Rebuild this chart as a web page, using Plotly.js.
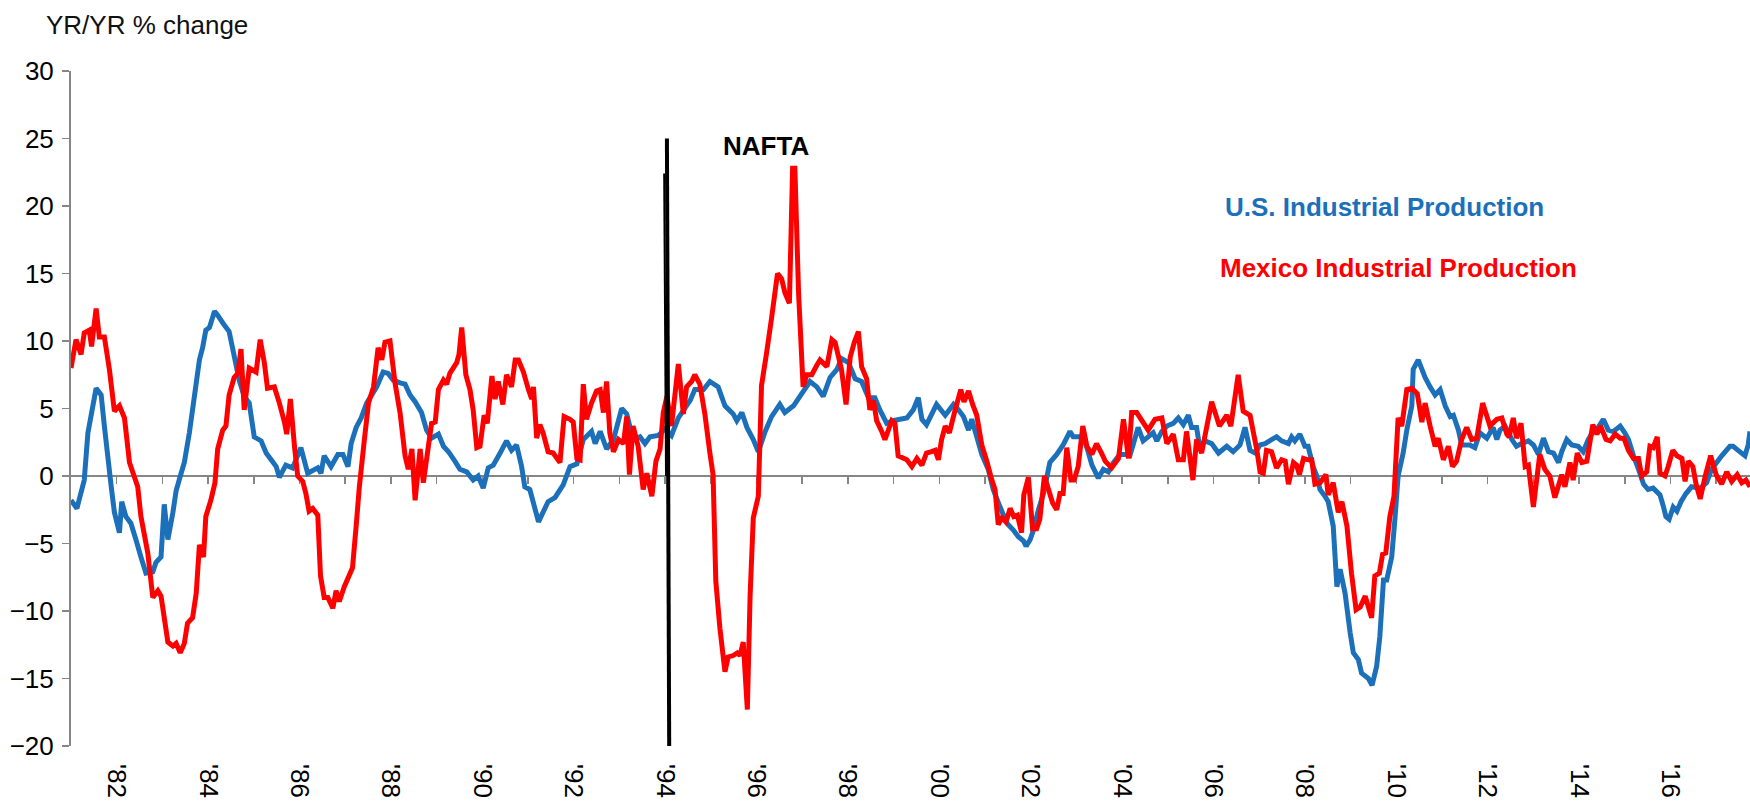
<!DOCTYPE html>
<html>
<head>
<meta charset="utf-8">
<script src="https://cdn.plot.ly/plotly-3.0.1.min.js"></script>
<style>
html,body{margin:0;padding:0;background:#ffffff;}
#chart{width:1750px;height:801px;}
</style>
</head>
<body>
<div id="chart"></div>
<script>
// ---- Data (year as decimal, YoY % change) ----
const usYears = [
1981.00,1981.13,1981.29,1981.37,1981.55,1981.66,1981.73,1981.88,1981.95,1982.06,
1982.11,1982.20,1982.31,1982.42,1982.53,1982.64,1982.79,1982.86,1982.97,1983.04,
1983.12,1983.23,1983.30,1983.41,1983.48,1983.59,1983.70,1983.81,1983.88,1983.95,
1984.03,1984.14,1984.21,1984.35,1984.46,1984.57,1984.68,1984.79,1984.90,1985.01,
1985.16,1985.27,1985.38,1985.49,1985.56,1985.70,1985.85,1986.03,1986.18,1986.40,
1986.47,1986.54,1986.69,1986.84,1986.95,1987.06,1987.13,1987.24,1987.35,1987.47,
1987.69,1987.83,1987.94,1988.05,1988.20,1988.31,1988.42,1988.53,1988.67,1988.78,
1988.89,1989.04,1989.15,1989.26,1989.40,1989.51,1989.66,1989.80,1989.91,1990.02,
1990.13,1990.24,1990.39,1990.53,1990.64,1990.75,1990.86,1990.93,1991.04,1991.23,
1991.44,1991.59,1991.77,1991.92,1992.07,1992.21,1992.39,1992.47,1992.58,1992.72,
1992.87,1993.05,1993.16,1993.30,1993.45,1993.56,1993.67,1993.85,1994.00,1994.14,
1994.29,1994.55,1994.65,1994.84,1994.98,1995.16,1995.31,1995.49,1995.57,1995.68,
1995.79,1995.93,1996.04,1996.19,1996.33,1996.51,1996.62,1996.81,1996.95,1997.17,
1997.32,1997.46,1997.61,1997.76,1997.86,1998.01,1998.16,1998.30,1998.45,1998.59,
1998.70,1998.85,1998.99,1999.14,1999.29,1999.43,1999.54,1999.62,1999.72,1999.94,
2000.13,2000.31,2000.42,2000.53,2000.64,2000.71,2000.82,2000.93,2001.07,2001.18,
2001.33,2001.48,2001.62,2001.73,2001.84,2001.90,2001.99,2002.06,2002.17,2002.28,
2002.42,2002.57,2002.71,2002.86,2002.93,2003.04,2003.15,2003.23,2003.34,2003.48,
2003.59,2003.70,2003.81,2003.95,2004.06,2004.17,2004.25,2004.35,2004.46,2004.57,
2004.68,2004.76,2004.87,2004.98,2005.12,2005.23,2005.34,2005.45,2005.52,2005.63,
2005.70,2005.81,2005.96,2006.11,2006.29,2006.43,2006.58,2006.69,2006.80,2006.91,
2007.02,2007.13,2007.27,2007.38,2007.49,2007.64,2007.71,2007.78,2007.89,2008.00,
2008.07,2008.18,2008.26,2008.33,2008.44,2008.51,2008.62,2008.70,2008.77,2008.88,
2008.99,2009.06,2009.17,2009.24,2009.39,2009.47,2009.57,2009.64,2009.72,2009.79,
2009.90,2009.97,2010.04,2010.15,2010.23,2010.34,2010.37,2010.48,2010.63,2010.74,
2010.85,2010.96,2011.07,2011.18,2011.25,2011.36,2011.43,2011.61,2011.72,2011.83,
2011.98,2012.12,2012.20,2012.27,2012.38,2012.53,2012.63,2012.74,2012.89,2013.00,
2013.11,2013.22,2013.33,2013.44,2013.55,2013.62,2013.73,2013.84,2013.98,2014.09,
2014.20,2014.31,2014.42,2014.53,2014.64,2014.75,2014.90,2015.00,2015.08,2015.19,
2015.30,2015.41,2015.51,2015.62,2015.77,2015.84,2015.90,2015.97,2016.06,2016.14,
2016.23,2016.34,2016.46,2016.65,2016.79,2016.90,2017.01,2017.12,2017.30,2017.37,
2017.48,2017.63,2017.70,2017.74
];
const usValues = [
-1.8,-2.4,-0.3,3.2,6.5,6.0,3.7,-0.8,-2.7,-4.2,
-1.9,-3.0,-3.5,-4.7,-6.0,-7.2,-7.1,-6.4,-6.0,-2.1,
-4.7,-2.7,-1.1,0.2,1.0,3.2,5.9,8.6,9.5,10.8,
11.0,12.2,11.9,11.2,10.7,8.9,7.1,5.9,5.4,2.9,
2.6,1.7,1.2,0.7,-0.1,0.8,0.6,2.1,0.2,0.6,
0.2,1.5,0.7,1.6,1.6,0.7,2.4,3.6,4.3,5.4,
6.6,7.7,7.6,7.1,6.9,6.8,6.0,5.5,4.7,3.4,
2.8,3.1,2.2,1.8,1.1,0.5,0.3,-0.3,0.0,-0.9,
0.6,0.8,1.7,2.6,1.9,2.3,0.7,-0.8,-1.0,-3.4,
-1.9,-1.6,-0.65,0.7,0.9,2.7,3.3,2.4,3.3,2.0,
2.7,5.0,4.6,2.7,2.9,2.4,2.9,3.0,3.5,3.0,
4.3,5.6,6.4,6.4,7.0,6.6,5.2,4.6,4.1,4.7,
3.6,2.7,1.8,3.3,4.4,5.3,4.7,5.2,5.9,7.0,
6.6,5.9,7.3,7.9,8.7,8.4,7.2,7.0,5.8,5.8,
4.9,3.9,4.1,4.2,4.3,4.9,5.8,4.2,3.8,5.3,
4.5,5.3,4.9,4.4,3.4,4.2,2.9,1.6,0.5,-1.0,
-2.3,-3.5,-4.0,-4.5,-4.8,-5.2,-4.7,-4.0,-2.5,-1.3,
1.0,1.6,2.3,3.3,2.9,2.9,2.9,2.1,0.8,-0.15,
0.5,0.3,1.0,1.6,1.6,1.5,2.4,3.6,2.6,2.9,
3.2,2.6,3.3,3.7,3.9,4.3,3.8,4.5,3.6,3.6,
2.1,2.6,2.4,1.7,2.2,1.8,2.3,3.6,1.9,1.7,
2.3,2.4,2.7,2.9,2.6,2.4,2.9,2.6,3.1,2.2,
2.2,0.7,0.0,-1.0,-1.5,-1.9,-3.7,-8.2,-6.9,-8.7,
-11.6,-13.1,-13.6,-14.6,-15.0,-15.5,-14.1,-11.9,-7.7,-7.7,
-6.0,-3.2,0.0,1.7,3.4,5.2,7.9,8.6,7.3,6.6,
6.0,6.4,5.2,4.4,4.5,3.4,2.3,2.3,2.1,3.2,
2.8,3.6,2.7,3.4,3.7,2.7,2.2,2.4,2.6,2.3,
1.6,2.8,1.8,1.7,1.0,1.8,2.7,2.3,2.2,1.8,
2.7,3.3,3.6,4.2,3.4,3.3,3.7,3.2,2.7,1.5,
0.5,-0.6,-1.0,-0.9,-1.4,-2.2,-3.0,-3.2,-2.3,-2.6,
-1.9,-1.3,-0.8,-0.9,-0.5,0.5,1.0,1.5,2.2,2.2,
1.9,1.5,2.3,3.3
];
const mxYears = [
1981.00,1981.11,1981.22,1981.29,1981.40,1981.45,1981.55,1981.62,1981.73,1981.84,
1981.95,1982.06,1982.17,1982.28,1982.35,1982.46,1982.53,1982.68,1982.79,1982.90,
1982.97,1983.12,1983.23,1983.30,1983.39,1983.48,1983.55,1983.66,1983.74,1983.81,
1983.90,1983.95,1984.06,1984.15,1984.21,1984.32,1984.39,1984.46,1984.57,1984.65,
1984.72,1984.79,1984.90,1985.05,1985.14,1985.23,1985.30,1985.45,1985.56,1985.67,
1985.72,1985.80,1985.89,1985.96,1986.07,1986.14,1986.21,1986.29,1986.40,1986.46,
1986.54,1986.62,1986.73,1986.80,1986.87,1986.98,1987.16,1987.24,1987.31,1987.42,
1987.51,1987.62,1987.72,1987.80,1987.87,1987.98,1988.09,1988.20,1988.31,1988.38,
1988.46,1988.53,1988.64,1988.71,1988.82,1988.89,1988.97,1989.04,1989.15,1989.22,
1989.29,1989.44,1989.49,1989.55,1989.64,1989.73,1989.80,1989.88,1989.95,1990.04,
1990.11,1990.21,1990.28,1990.35,1990.45,1990.53,1990.64,1990.72,1990.79,1990.90,
1991.01,1991.08,1991.12,1991.19,1991.26,1991.33,1991.44,1991.55,1991.70,1991.79,
1991.92,1991.99,1992.07,1992.14,1992.21,1992.28,1992.39,1992.50,1992.58,1992.65,
1992.72,1992.79,1992.87,1992.98,1993.09,1993.16,1993.22,1993.30,1993.41,1993.52,
1993.60,1993.71,1993.80,1993.89,1993.96,1994.04,1994.14,1994.29,1994.40,1994.47,
1994.58,1994.65,1994.76,1994.87,1994.98,1995.05,1995.11,1995.20,1995.31,1995.38,
1995.49,1995.58,1995.64,1995.71,1995.80,1995.86,1995.93,1996.04,1996.11,1996.22,
1996.33,1996.46,1996.55,1996.62,1996.72,1996.79,1996.84,1996.92,1997.02,1997.10,
1997.21,1997.32,1997.39,1997.54,1997.65,1997.72,1997.86,1997.96,1998.05,1998.14,
1998.23,1998.30,1998.41,1998.48,1998.56,1998.63,1998.74,1998.81,1998.96,1999.03,
1999.10,1999.29,1999.40,1999.51,1999.62,1999.72,1999.83,1999.91,1999.98,2000.05,
2000.13,2000.22,2000.34,2000.47,2000.54,2000.64,2000.73,2000.82,2000.93,2001.04,
2001.15,2001.22,2001.29,2001.37,2001.46,2001.55,2001.63,2001.71,2001.80,2001.85,
2001.95,2002.04,2002.13,2002.20,2002.30,2002.39,2002.48,2002.57,2002.64,2002.71,
2002.79,2002.88,2002.95,2003.04,2003.14,2003.23,2003.34,2003.44,2003.55,2003.63,
2003.77,2003.92,2004.03,2004.14,2004.21,2004.32,2004.57,2004.72,2004.87,2004.98,
2005.12,2005.23,2005.34,2005.41,2005.55,2005.63,2005.74,2005.96,2006.13,2006.29,
2006.38,2006.54,2006.65,2006.80,2006.95,2007.02,2007.09,2007.16,2007.27,2007.38,
2007.49,2007.57,2007.64,2007.75,2007.82,2007.88,2007.97,2008.07,2008.15,2008.22,
2008.33,2008.46,2008.51,2008.62,2008.73,2008.81,2008.92,2009.02,2009.12,2009.21,
2009.32,2009.39,2009.46,2009.53,2009.63,2009.70,2009.77,2009.86,2009.95,2010.04,
2010.12,2010.23,2010.34,2010.46,2010.56,2010.63,2010.74,2010.85,2010.92,2011.03,
2011.14,2011.23,2011.32,2011.43,2011.54,2011.65,2011.76,2011.89,2012.05,2012.20,
2012.31,2012.42,2012.47,2012.56,2012.63,2012.73,2012.82,2012.89,2013.00,2013.14,
2013.25,2013.36,2013.47,2013.62,2013.69,2013.80,2013.87,2013.96,2014.06,2014.17,
2014.30,2014.39,2014.47,2014.59,2014.68,2014.79,2014.90,2014.98,2015.08,2015.19,
2015.30,2015.37,2015.48,2015.55,2015.62,2015.71,2015.77,2015.88,2015.95,2016.05,
2016.14,2016.25,2016.32,2016.39,2016.49,2016.56,2016.65,2016.76,2016.88,2017.00,
2017.12,2017.23,2017.34,2017.46,2017.56,2017.65,2017.74
];
const mxValues = [
8.0,10.1,9.0,10.6,10.8,9.6,12.4,10.3,10.3,7.9,
4.8,5.2,4.3,1.0,0.3,-0.8,-3.0,-5.7,-9.0,-8.5,
-8.9,-12.3,-12.6,-12.4,-13.1,-12.4,-10.9,-10.5,-8.7,-5.1,
-6.0,-3.0,-1.8,-0.5,2.0,3.4,3.7,6.0,7.3,7.6,
9.4,4.9,8.0,7.7,10.1,8.4,6.5,6.6,5.4,4.0,
3.1,5.7,2.2,0.0,-0.4,-1.3,-2.6,-2.4,-2.9,-7.4,
-9.0,-9.0,-9.8,-8.5,-9.3,-8.2,-6.8,-3.7,-0.8,2.7,
5.4,6.6,9.5,8.6,9.9,10.0,6.9,4.7,1.5,0.5,
2.0,-1.8,2.0,-0.5,2.2,3.9,4.0,6.4,7.1,6.8,
7.6,8.4,9.0,11.0,7.5,6.4,4.9,2.1,2.2,4.5,
3.9,7.4,5.7,7.0,5.3,7.5,6.6,8.6,8.6,7.7,
6.4,5.7,6.6,2.8,3.8,3.2,1.8,1.7,1.0,4.4,
4.2,4.0,1.3,1.2,6.8,4.2,5.4,6.3,6.4,4.7,
7.0,3.2,1.8,2.7,2.4,4.4,0.1,3.7,2.2,-1.0,
0.2,-1.5,1.1,2.0,4.7,5.9,3.7,8.3,4.6,6.6,
7.0,7.5,6.8,4.6,1.7,0.1,-7.8,-11.3,-14.5,-13.4,
-13.3,-13.1,-13.3,-12.3,-17.3,-8.9,-3.1,-1.5,6.7,9.1,
11.7,15.0,14.6,13.6,12.8,22.8,22.8,13.6,6.6,7.5,
7.5,8.2,8.6,8.1,10.1,9.9,7.9,5.3,8.8,9.9,
10.7,8.1,7.2,4.9,5.6,4.1,3.3,2.7,4.1,3.9,
1.5,1.2,0.7,1.3,0.8,1.7,1.8,1.9,1.2,2.7,
3.7,3.2,4.8,6.4,5.5,6.3,5.3,4.5,2.3,1.1,
-0.3,-1.0,-3.6,-3.1,-3.4,-2.4,-3.0,-2.9,-4.2,-1.4,
-0.1,-3.9,-3.9,-3.2,0.0,-1.0,-2.0,-2.5,-1.3,-1.3,
2.1,-0.3,-0.3,0.7,3.7,2.2,1.6,2.4,1.7,1.1,
0.6,1.3,4.2,1.3,4.7,4.7,3.4,4.2,4.3,2.4,
3.1,1.2,1.2,3.3,-0.3,2.7,1.7,5.5,3.7,4.5,
3.7,7.5,4.8,4.5,1.9,0.3,0.2,1.9,1.8,0.6,
1.2,1.1,-0.6,1.0,0.8,0.1,1.3,1.2,1.2,-0.6,
-0.5,0.1,-1.4,-0.5,-2.7,-1.9,-3.7,-7.2,-9.9,-9.7,
-8.9,-9.7,-10.5,-7.4,-7.2,-5.8,-5.7,-3.0,-1.5,4.3,
3.7,6.4,6.5,6.1,4.0,5.4,3.7,2.2,2.8,1.2,
2.2,0.7,1.1,2.7,3.6,2.7,2.8,5.4,3.7,4.2,
4.3,3.1,2.9,4.3,2.8,3.9,0.7,0.8,-2.3,1.6,
0.5,0.0,-1.6,0.1,-0.8,1.0,-0.3,1.7,1.0,1.1,
3.8,3.1,3.7,2.7,2.6,3.1,2.8,2.8,1.9,1.3,
1.3,0.0,0.3,2.2,2.1,2.9,0.2,0.0,0.7,1.9,
1.5,1.3,-0.4,1.1,0.7,-0.6,-1.7,0.0,1.5,0.1,
-0.6,0.3,-0.4,0.1,-0.5,-0.3,-0.8
];

// ---- Axis ticks / labels ----
const labelYears = [1982,1984,1986,1988,1990,1992,1994,1996,1998,2000,2002,2004,2006,2008,2010,2012,2014,2016];
const labelText  = ["'82","'84","'86","'88","'90","'92","'94","'96","'98","'00","'02","'04","'06","'08","'10","'12","'14","'16"];
const tickYears  = [1982,1983,1984,1985,1986,1987,1988,1989,1990,1991,1992,1993,1994,1995,1996,1997,1998,1999,2000,2001,2002,2003,2004,2005,2006,2007,2008,2009,2010,2011,2012,2013,2014,2015,2016,2017];
const yTicks     = [-20,-15,-10,-5,0,5,10,15,20,25,30];
const xRange     = [1981.0, 2017.74];
const yRange     = [-20, 30];

// ---- Event marker ----
const naftaYear  = 1994.04;
const naftaTop   = 25;
const naftaBottom= -20.4;

const seriesNames = ['U.S. Industrial Production','Mexico Industrial Production'];
const BLUE = '#1c70ba';
const RED  = '#ff0000';
const GREY = '#868686';
const FONT = '"Liberation Sans", Arial, Helvetica, sans-serif';

const traces = [
  {x: usYears, y: usValues, type:'scatter', mode:'lines', name: seriesNames[0],
   line:{color:BLUE, width:5, simplify:false}, hoverinfo:'skip'},
  {x: mxYears, y: mxValues, type:'scatter', mode:'lines', name: seriesNames[1],
   line:{color:RED, width:5, simplify:false}, hoverinfo:'skip'},
  {x: [xRange[0]], y: [null], xaxis:'x2', yaxis:'y', type:'scatter', mode:'lines',
   showlegend:false, hoverinfo:'skip'}
];

const layout = {
  width:1750, height:801,
  margin:{l:71, r:0, t:71, b:55, pad:0},
  paper_bgcolor:'#ffffff', plot_bgcolor:'#ffffff',
  showlegend:false,
  font:{family:FONT, size:26, color:'#000000'},
  xaxis:{
    type:'linear', range:xRange, tickmode:'array', tickvals:labelYears, ticktext:labelText,
    tickangle:90, ticks:'', showline:false, showgrid:false, zeroline:false,
    tickfont:{family:FONT, size:26, color:'#000000'}, ticklabelstandoff:17,
    automargin:false, fixedrange:true
  },
  xaxis2:{
    type:'linear', overlaying:'x', anchor:'free', position:(0 - yRange[0])/(yRange[1]-yRange[0]),
    range:xRange, tickmode:'array', tickvals:tickYears, showticklabels:false,
    ticks:'outside', ticklen:7, tickwidth:1.5, tickcolor:GREY,
    showline:true, linecolor:GREY, linewidth:2, showgrid:false, zeroline:false,
    layer:'below traces', side:'bottom', fixedrange:true
  },
  yaxis:{
    range:yRange, tickmode:'array', tickvals:yTicks,
    ticks:'outside', ticklen:7, tickwidth:1.5, tickcolor:GREY,
    showline:true, linecolor:GREY, linewidth:2, showgrid:false, zeroline:false,
    tickfont:{family:FONT, size:26, color:'#000000'}, ticklabelstandoff:3,
    layer:'below traces', automargin:false, fixedrange:true
  },
  shapes:[
    {type:'line', xref:'x', yref:'y', x0:naftaYear, x1:naftaYear+0.05, y0:naftaTop, y1:naftaBottom,
     line:{color:'#000000', width:4}},
    {type:'line', xref:'x', yref:'y', x0:naftaYear-0.06, x1:naftaYear-0.02, y0:naftaTop-2.6, y1:0,
     line:{color:'#000000', width:2}}
  ],
  annotations:[
    {text:'YR/YR % change', xref:'paper', yref:'paper', x:0, y:1, xanchor:'left', yanchor:'middle',
     xshift:-27, yshift:46, showarrow:false, font:{family:FONT, size:26, color:'#111111'}},
    {text:'<b>NAFTA</b>', xref:'paper', yref:'paper', x:0.4139, y:0.8889, xanchor:'center', yanchor:'middle',
     showarrow:false, font:{family:FONT, size:26, color:'#000000'}},
    {text:'<b>'+seriesNames[0]+'</b>', xref:'paper', yref:'paper', x:0.6861, y:0.7978, xanchor:'left', yanchor:'middle',
     showarrow:false, font:{family:FONT, size:26, color:BLUE}},
    {text:'<b>'+seriesNames[1]+'</b>', xref:'paper', yref:'paper', x:0.6831, y:0.7077, xanchor:'left', yanchor:'middle',
     showarrow:false, font:{family:FONT, size:26, color:RED}}
  ]
};

Plotly.newPlot('chart', traces, layout, {staticPlot:true, displayModeBar:false});
</script>
</body>
</html>
